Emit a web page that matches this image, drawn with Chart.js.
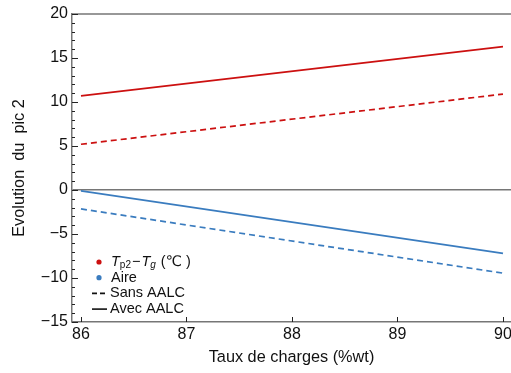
<!DOCTYPE html>
<html>
<head>
<meta charset="utf-8">
<script src="https://cdn.jsdelivr.net/npm/chart.js@4.4.1/dist/chart.umd.min.js"></script>
<style>
  body { margin: 0; background: #fff; }
  #wrap { width: 511px; height: 373px; }
</style>
</head>
<body>
<div id="wrap"><canvas id="picChart"></canvas></div>
<script>
// données
const tauxCharges = [86, 90];
const tpSansAALC = [5.2, 10.9];
const tpAvecAALC = [10.7, 16.3];
const aireSansAALC = [-2.15, -9.45];
const aireAvecAALC = [-0.1, -7.2];

const xTitle = 'Taux de charges (%wt)';
const yTitle = 'Evolution  du  pic 2';
const legendSeries = ['Aire'];
const legendStyles = ['Sans AALC', 'Avec AALC'];

const rouge = '#cc1010';
const bleu = '#3a7cbf';
const gris = '#767676';
const FONT = "'Liberation Sans', Arial, 'DejaVu Sans', sans-serif";

function toPoints(ys) {
    return tauxCharges.map((x, i) => ({ x: x, y: ys[i] }));
}

function moins(v) {
    return v < 0 ? '\u2212' + Math.abs(v) : String(v);
}

// cadre, petites graduations et légende
const decorPlugin = {
    id: 'decor',
    afterDraw(chart) {
        const ctx = chart.ctx;
        const area = chart.chartArea;
        const xs = chart.scales.x;
        const ys = chart.scales.y;
        ctx.save();
        ctx.strokeStyle = gris;
        ctx.lineWidth = 1.5;
        ctx.beginPath();
        ctx.moveTo(area.left, area.top);
        ctx.lineTo(area.right, area.top);
        ctx.stroke();

        ctx.strokeStyle = '#222';
        ctx.lineWidth = 1;
        ys.ticks.forEach(t => {
            const py = Math.round(ys.getPixelForValue(t.value)) + 0.5;
            const len = t.value % 5 === 0 ? 6 : 3;
            ctx.beginPath();
            ctx.moveTo(area.left, py);
            ctx.lineTo(area.left + len, py);
            ctx.stroke();
        });
        xs.ticks.forEach(t => {
            if (!Number.isInteger(t.value)) return;
            const px = Math.round(xs.getPixelForValue(t.value)) + 0.5;
            ctx.beginPath();
            ctx.moveTo(px, area.bottom);
            ctx.lineTo(px, area.bottom - 5);
            ctx.stroke();
        });

        // légende
        const lx = 99;
        let ly = 262;
        const step = 15.7;
        ctx.textBaseline = 'middle';
        ctx.fillStyle = rouge;
        ctx.beginPath();
        ctx.arc(lx, ly, 2.6, 0, Math.PI * 2);
        ctx.fill();
        ctx.fillStyle = '#111';
        let tx = 111;
        const seg = (txt, font, dy) => {
            ctx.font = font;
            ctx.fillText(txt, tx, ly + dy);
            tx += ctx.measureText(txt).width;
        };
        seg('T', 'italic 14.5px ' + FONT, 0);
        seg('p2', '10px ' + FONT, 3.5);
        tx += 1;
        seg('\u2212', '14.5px ' + FONT, 0);
        tx += 1;
        seg('T', 'italic 14.5px ' + FONT, 0);
        seg('g', 'italic 10px ' + FONT, 3.5);
        tx += 5;
        seg('(\u2103 )', '14.5px ' + FONT, 0);

        ly += step;
        ctx.fillStyle = bleu;
        ctx.beginPath();
        ctx.arc(lx, ly, 2.6, 0, Math.PI * 2);
        ctx.fill();
        ctx.fillStyle = '#111';
        ctx.font = '14.5px ' + FONT;
        ctx.fillText(legendSeries[0], 111, ly);

        legendStyles.forEach((lab, i) => {
            ly += step;
            ctx.strokeStyle = '#111';
            ctx.lineWidth = 1.6;
            ctx.setLineDash(i === 0 ? [5, 3] : []);
            ctx.beginPath();
            ctx.moveTo(92, ly);
            ctx.lineTo(107, ly);
            ctx.stroke();
            ctx.setLineDash([]);
            ctx.fillText(lab, 110, ly);
        });
        ctx.restore();
    }
};

const lineStyle = (color, dashed) => ({
    borderColor: color,
    backgroundColor: color,
    borderWidth: 1.7,
    borderDash: dashed ? [6, 4] : [],
    pointRadius: 0,
    showLine: true,
    fill: false,
    tension: 0
});

new Chart(document.getElementById('picChart'), {
    type: 'scatter',
    data: {
        datasets: [
            { label: 'Tp2-Tg sans AALC', data: toPoints(tpSansAALC), ...lineStyle(rouge, true) },
            { label: 'Tp2-Tg avec AALC', data: toPoints(tpAvecAALC), ...lineStyle(rouge, false) },
            { label: 'Aire sans AALC', data: toPoints(aireSansAALC), ...lineStyle(bleu, true) },
            { label: 'Aire avec AALC', data: toPoints(aireAvecAALC), ...lineStyle(bleu, false) }
        ]
    },
    options: {
        responsive: true,
        maintainAspectRatio: false,
        animation: false,
        layout: { padding: { top: 14, left: 0, right: 0, bottom: 0 } },
        plugins: {
            legend: { display: false },
            tooltip: { enabled: false }
        },
        scales: {
            x: {
                type: 'linear',
                min: 85.915,
                max: 90.076,
                grid: { display: false, drawTicks: false },
                border: { display: true, color: gris, width: 1.5 },
                ticks: {
                    stepSize: 1,
                    includeBounds: false,
                    padding: 3,
                    maxRotation: 0,
                    color: '#111',
                    font: { family: FONT, size: 16 }
                },
                title: {
                    display: true,
                    text: xTitle,
                    color: '#111',
                    font: { family: FONT, size: 16.3 },
                    padding: { top: 0, bottom: 6 }
                },
                afterFit(scale) {
                    scale.height = 51;
                    scale.paddingLeft = 0;
                    scale.paddingRight = 0;
                }
            },
            y: {
                min: -15,
                max: 20,
                grid: {
                    drawTicks: false,
                    color: ctx => (ctx.tick && ctx.tick.value === 0 ? gris : 'rgba(0,0,0,0)'),
                    lineWidth: 1.5
                },
                border: { display: true, color: gris, width: 1.5 },
                ticks: {
                    stepSize: 1,
                    autoSkip: false,
                    padding: 4,
                    color: '#111',
                    font: { family: FONT, size: 16 },
                    callback: v => (v % 5 === 0 ? moins(v) : '')
                },
                title: {
                    display: true,
                    text: yTitle,
                    color: '#111',
                    font: { family: FONT, size: 16.3 },
                    padding: { top: 10, bottom: 0 }
                },
                afterFit(scale) {
                    scale.width = 72;
                    scale.paddingTop = 0;
                    scale.paddingBottom = 0;
                }
            }
        }
    },
    plugins: [decorPlugin]
});
</script>
</body>
</html>
